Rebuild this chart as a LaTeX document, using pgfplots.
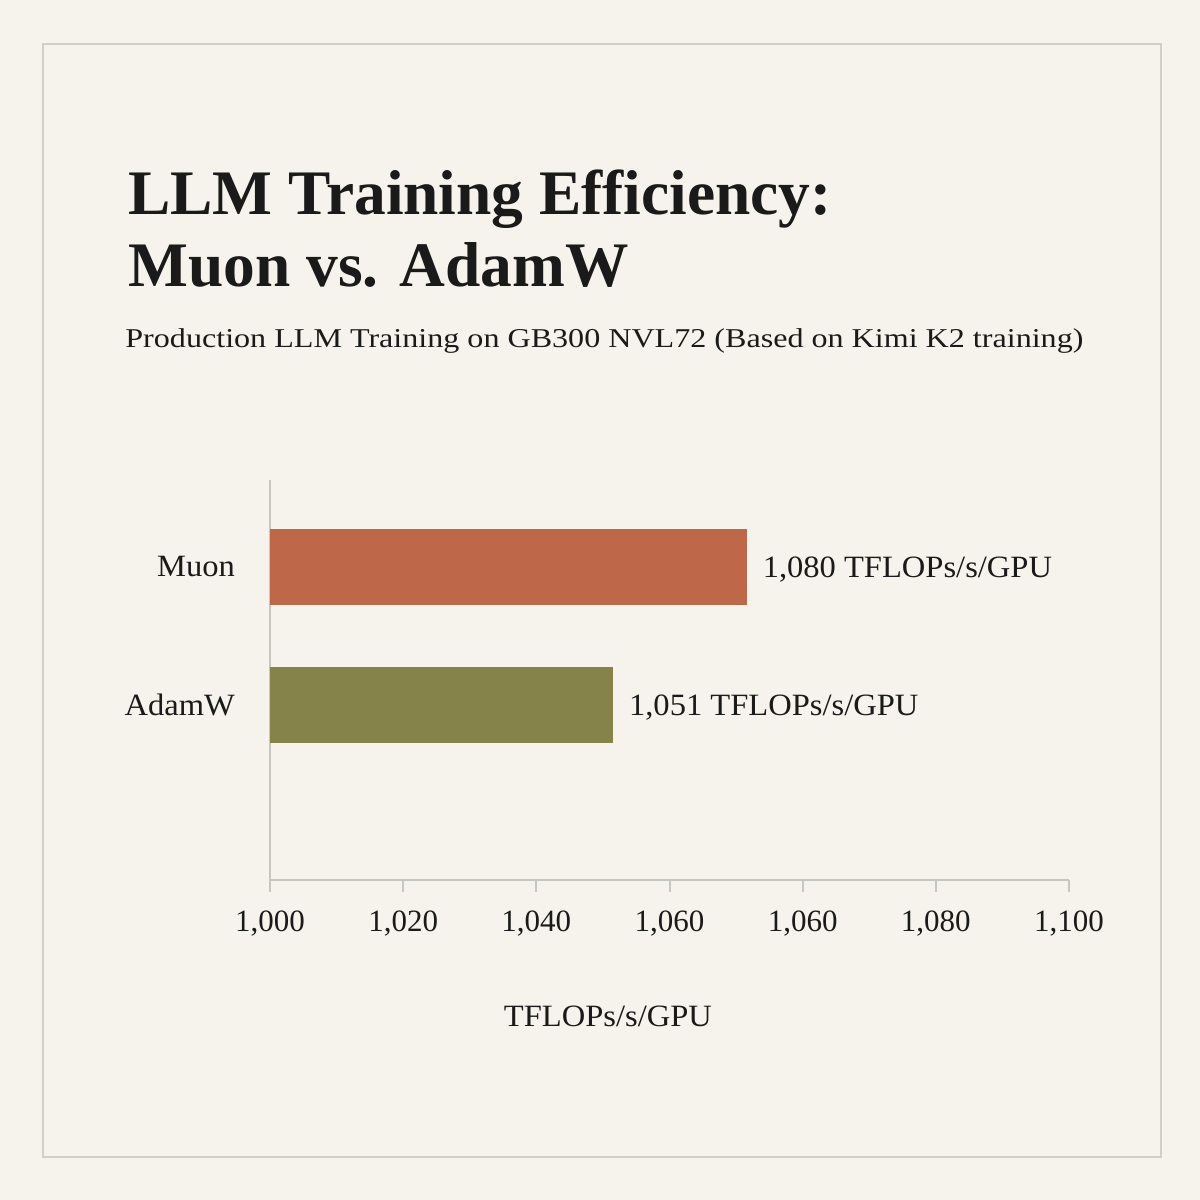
\documentclass[border=0pt]{standalone}
\usepackage{fontspec}
\setmainfont{Liberation Serif}
\newfontfamily\subfont[FakeStretch=1.18]{Liberation Serif}
\newfontfamily\labfont[FakeStretch=1.05]{Liberation Serif}
\usepackage{pgfplots}
\pgfplotsset{compat=1.18}

\definecolor{paper}{HTML}{F5F3EC}
\definecolor{framegray}{HTML}{CFCFCC}
\definecolor{axisgray}{HTML}{C6C6C3}
\definecolor{muon}{HTML}{BF6749}
\definecolor{adamw}{HTML}{86834A}
\definecolor{ink}{HTML}{1A1A1A}

\begin{document}
\begin{tikzpicture}
% page background and frame (1px = 0.5pt)
\fill[paper] (0,0) rectangle (600pt,600pt);
\draw[framegray, line width=1pt] (21.5pt,21.5pt) rectangle (580.5pt,578pt);

% titles
\node[anchor=base west, inner sep=0pt, text=ink, font=\fontsize{31.7}{36}\selectfont\bfseries]
  at (64pt,492.5pt) {LLM Training Efficiency:};
\node[anchor=base west, inner sep=0pt, text=ink, font=\fontsize{31.7}{36}\selectfont\bfseries]
  at (64pt,456.5pt) {Muon vs. AdamW};
\node[anchor=base west, inner sep=0pt, text=ink, font=\subfont\fontsize{13.6}{16}\selectfont]
  at (62.5pt,426pt) {Production LLM Training on GB300 NVL72 (Based on Kimi K2 training)};

\begin{axis}[
  at={(135pt,160pt)}, anchor=south west,
  scale only axis,
  width=399.5pt, height=200pt,
  xbar, bar width=38pt, bar shift=0pt,
  xmin=1000, xmax=1100,
  ymin=0, ymax=1,
  axis x line*=bottom, axis y line*=left,
  axis line style={axisgray, line width=1pt, -},
  xtick={1000,1016.667,1033.333,1050,1066.667,1083.333,1100},
  xticklabels={{1,000},{1,020},{1,040},{1,060},{1,060},{1,080},{1,100}},
  x tick style={axisgray, line width=1pt},
  tick align=outside, major tick length=6pt,
  ytick={0.4375,0.7825},
  yticklabels={AdamW,Muon},
  y tick style={draw=none},
  tick label style={text=ink},
  xticklabel style={yshift=-6pt, font=\fontsize{15.5}{18}\selectfont},
  yticklabel style={xshift=-8pt, font=\labfont\fontsize{15.5}{18}\selectfont},
  xlabel={TFLOPs/s/GPU},
  xlabel style={at={(rel axis cs:0.423,0)}, anchor=center, yshift=-68pt,
    text=ink, font=\labfont\fontsize{15.5}{18}\selectfont},
  nodes near coords,
  point meta=explicit symbolic,
  nodes near coords style={anchor=west, xshift=4.5pt, yshift=-1.5pt, text=ink,
    font=\labfont\fontsize{15.5}{18}\selectfont},
]
\addplot[fill=muon, draw=none] coordinates {(1059.66,0.7825) [{1,080 TFLOPs/s/GPU}]};
\addplot[fill=adamw, draw=none] coordinates {(1042.93,0.4375) [{1,051 TFLOPs/s/GPU}]};
\end{axis}
\end{tikzpicture}
\end{document}
